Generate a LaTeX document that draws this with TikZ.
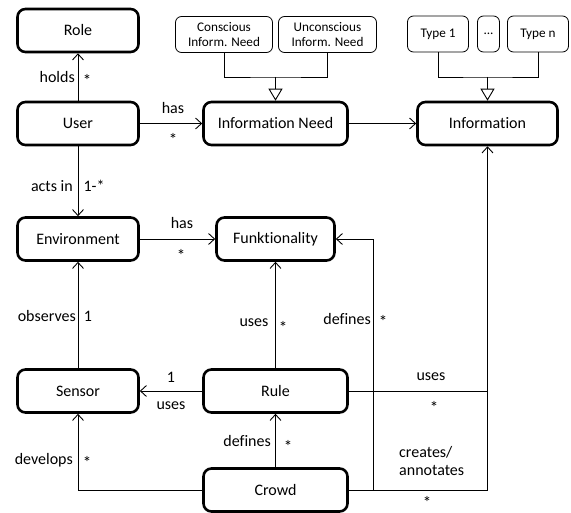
\documentclass[tikz,border=0pt]{standalone}
\usepackage{fontspec}
\setmainfont{Carlito}[Ligatures=NoCommon]
\usetikzlibrary{arrows.meta}
\begin{document}
\begin{tikzpicture}[x=1pt,y=-1pt,
  cls/.style={draw, line width=2.6pt, rounded corners=8pt, minimum width=121pt,
    minimum height=43pt, inner sep=0pt, font=\fontsize{16}{18}\selectfont},
  sub/.style={draw, line width=0.8pt, rounded corners=6pt, minimum height=36pt,
    inner sep=0pt, align=center, font=\fontsize{13.2}{15.5}\selectfont},
  lbl/.style={font=\fontsize{16}{18}\selectfont, inner sep=0pt},
  mult/.style={font=\fontsize{17}{18}\selectfont, inner sep=0pt},
  assoc/.style={line width=0.9pt, -{Straight Barb[length=6pt,width=11pt]}},
  link/.style={line width=0.9pt},
  gen/.style={line width=0.9pt, -{Triangle[open,length=12pt,width=14pt,fill=white]}}
]
\useasboundingbox (0,0) rectangle (571,513);

% classes
\node[cls] (role)   at (78,30.5)    {Role};
\node[cls] (user)   at (78,123.5)   {User};
\node[cls, minimum width=144pt] (need) at (275.5,123.5) {Information Need};
\node[cls, minimum width=140pt] (info) at (487.5,123.5) {Information};
\node[cls] (env)    at (78,239)     {Environment};
\node[cls, minimum width=118pt] (funk) at (275.5,239) {Funktionality};
\node[cls] (sensor) at (78,391)     {Sensor};
\node[cls, minimum width=144pt] (rule) at (275.5,391) {Rule};
\node[cls, minimum width=144pt] (crowd) at (275.5,490) {Crowd};

% specialisations
\node[sub, minimum width=97pt] (cons)   at (224,34.5)   {Conscious\\Inform. Need};
\node[sub, minimum width=98pt] (uncons) at (327.5,34.5) {Unconscious\\Inform. Need};
\node[sub, minimum width=61pt] (type1)  at (438,34)     {Type 1};
\node[sub, minimum width=22pt] (tdots)  at (488.5,34)   {...};
\node[sub, minimum width=61pt] (typen)  at (538,34)     {Type n};

\coordinate (needjoin) at (275.5,77);
\coordinate (infojoin) at (487.5,77);
\draw[link] (cons.south) |- (needjoin) -| (uncons.south);
\draw[gen] (needjoin) -- (need.north);
\draw[link] (type1.south) |- (infojoin) -| (typen.south);
\draw[gen] (infojoin) -- (info.north);

% associations
\draw[assoc] (user) -- (role);
\draw[assoc] (user) -- (need);
\draw[assoc] (need) -- (info);
\draw[assoc] (user) -- (env);
\draw[assoc] (env) -- (funk);
\draw[assoc] (sensor) -- (env);
\draw[assoc] (rule) -- (funk);
\draw[assoc] (rule) -- (sensor);
\draw[assoc] (crowd) -- (rule);
\draw[assoc] (crowd.west) -| (sensor.south);
\coordinate (funkbend) at (373,239);
\draw[assoc] (crowd.east) -| (funkbend) -- (funk.east);
\draw[assoc] (rule.east) -| (info.south);
\coordinate (infobend) at (487.5,391);
\draw[link] (crowd.east) -| (infobend);

% association labels
\node[lbl, anchor=east] (l1) at (75,77) {holds};
\node[mult] (l1m) at (87,80) {*};
\node[lbl] (l2) at (173,108) {has};
\node[mult] (l2m) at (173,139) {*};
\node[lbl, anchor=east] (l3) at (73,186) {acts in};
\node[lbl] (l3m) at (94,186) {1-*};
\node[lbl] (l4) at (182,223) {has};
\node[mult] (l4m) at (181,255) {*};
\node[lbl, anchor=east] (l5) at (76,316) {observes};
\node[lbl] (l5m) at (88,316) {1};
\node[lbl] (l6) at (254,323) {uses};
\node[mult] (l6m) at (283,327) {*};
\node[lbl] (l7m) at (171,377) {1};
\node[lbl] (l7) at (171,406) {uses};
\node[lbl, anchor=east] (l8) at (271,441) {defines};
\node[mult] (l8m) at (288,446) {*};
\node[lbl, anchor=east] (l9) at (73,460) {develops};
\node[mult] (l9m) at (87,462) {*};
\node[lbl, anchor=east] (l10) at (371,319) {defines};
\node[mult] (l10m) at (383,321) {*};
\node[lbl] (l11) at (431,377) {uses};
\node[mult] (l11m) at (434,407) {*};
\node[lbl, anchor=west, align=left] (l12) at (399,461) {creates/\\annotates};
\node[mult] (l12m) at (427,502) {*};
\end{tikzpicture}
\end{document}
